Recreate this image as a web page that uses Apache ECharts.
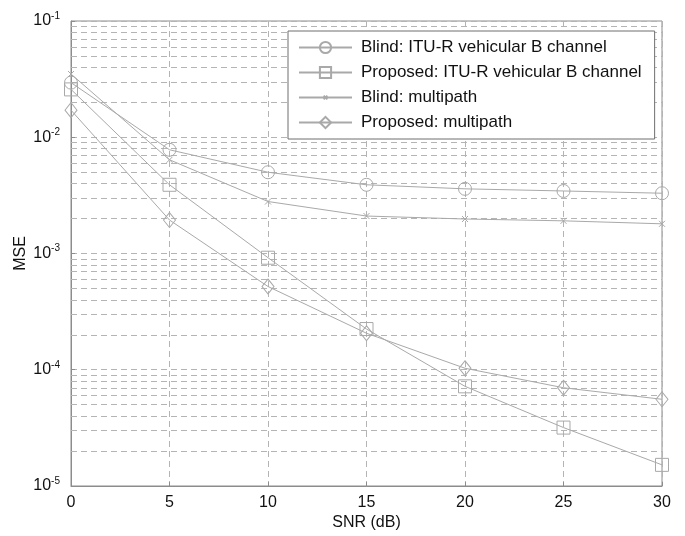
<!DOCTYPE html>
<html>
<head>
<meta charset="utf-8">
<script src="https://cdn.jsdelivr.net/npm/echarts@6/dist/echarts.min.js"></script>
<style>
html,body{margin:0;padding:0;background:#fff;}
#chart{width:685px;height:536px;}
</style>
</head>
<body>
<div id="chart"></div>
<script>
// ---- data ----
var snr = [0, 5, 10, 15, 20, 25, 30];
var blindITU = [0.0295, 0.0078, 0.0050, 0.0039, 0.0036, 0.00345, 0.0033];
var proposedITU = [0.0258, 0.0039, 0.00092, 0.000224, 0.000072, 0.0000318, 0.0000152];
var blindMP = [0.035, 0.0064, 0.0028, 0.0021, 0.00198, 0.00191, 0.0018];
var proposedMP = [0.0171, 0.00194, 0.00052, 0.000206, 0.000103, 0.000070, 0.0000557];
var seriesNames = [
  'Blind: ITU-R vehicular B channel',
  'Proposed: ITU-R vehicular B channel',
  'Blind: multipath',
  'Proposed: multipath'
];
var xTicks = [0, 5, 10, 15, 20, 25, 30];
var yDecades = [1e-5, 1e-4, 1e-3, 1e-2, 1e-1];
var minorMultipliers = [2, 3, 4, 5, 6, 7, 8, 9];

function pairs(ys) { return snr.map(function (x, i) { return [x, ys[i]]; }); }

var minorLines = [];
for (var d = 0; d < yDecades.length - 1; d++) {
  for (var k = 0; k < minorMultipliers.length; k++) {
    var v = minorMultipliers[k] * yDecades[d];
    minorLines.push([{ coord: [xTicks[0], v] }, { coord: [xTicks[xTicks.length - 1], v] }]);
  }
}

var LINE = '#a9a9a9';
var GRID = '#b4b4b4';
var FONT = 'Liberation Sans, Arial, sans-serif';
var XSYM = 'path://M-10,-10M0,0L10,10M10,0L0,10M20,20';

function mkSeries(name, ys, symbol, size) {
  return {
    name: name,
    type: 'line',
    data: pairs(ys),
    symbol: symbol,
    symbolSize: size,
    showAllSymbol: true,
    lineStyle: { color: LINE, width: 1 },
    itemStyle: { color: 'rgba(255,255,255,0)', borderColor: LINE, borderWidth: 1 },
    emphasis: { disabled: true },
    animation: false,
    z: 5
  };
}

var series = [
  mkSeries(seriesNames[0], blindITU, 'circle', 13),
  mkSeries(seriesNames[1], proposedITU, 'rect', 13),
  mkSeries(seriesNames[2], blindMP, XSYM, 18),
  mkSeries(seriesNames[3], proposedMP, 'diamond', [12, 15])
];
series.push({
  type: 'line',
  data: [],
  silent: true,
  animation: false,
  markLine: {
    silent: true,
    symbol: 'none',
    label: { show: false },
    animation: false,
    lineStyle: { color: GRID, type: [6, 4], width: 1 },
    emphasis: { disabled: true },
    data: minorLines
  },
  z: 1
});

var chart = echarts.init(document.getElementById('chart'), null, { renderer: 'canvas' });
chart.setOption({
  backgroundColor: '#fff',
  animation: false,
  textStyle: { fontFamily: FONT },
  grid: {
    left: 71, right: 23, top: 21, bottom: 50,
    show: true, borderColor: '#8c8c8c', borderWidth: 1, backgroundColor: 'transparent'
  },
  legend: {
    data: seriesNames,
    orient: 'vertical',
    left: 288, top: 31,
    backgroundColor: '#fff',
    borderColor: '#6e6e6e',
    borderWidth: 1,
    borderRadius: 0,
    padding: [8, 13, 8, 10],
    itemWidth: 53,
    itemHeight: 14,
    itemGap: 8,
    textStyle: { fontFamily: FONT, fontSize: 17, color: '#111', padding: [0, 0, 0, 4] },
    selectedMode: false,
    z: 10
  },
  xAxis: {
    type: 'value',
    min: 0, max: 30, interval: 5,
    name: 'SNR (dB)',
    nameLocation: 'middle',
    nameGap: 29,
    nameMoveOverlap: false,
    nameTextStyle: { fontFamily: FONT, fontSize: 16, color: '#111' },
    axisLine: { show: true, lineStyle: { color: '#8c8c8c' } },
    axisTick: { show: true, inside: true, length: 4, lineStyle: { color: '#8c8c8c' } },
    axisLabel: {
      fontFamily: FONT, fontSize: 16, color: '#111', margin: 9,
      formatter: function (v) { return xTicks.indexOf(v) >= 0 ? String(v) : ''; }
    },
    splitLine: { show: true, lineStyle: { color: GRID, type: [6, 4], width: 1 } }
  },
  yAxis: {
    type: 'log',
    logBase: 10,
    min: yDecades[0], max: yDecades[yDecades.length - 1],
    name: 'MSE',
    nameLocation: 'middle',
    nameGap: 42,
    nameMoveOverlap: false,
    nameTextStyle: { fontFamily: FONT, fontSize: 16, color: '#111' },
    axisLine: { show: true, lineStyle: { color: '#8c8c8c' } },
    axisTick: { show: true, inside: true, length: 4, lineStyle: { color: '#8c8c8c' } },
    axisLabel: {
      margin: 11,
      formatter: function (v) {
        var e = Math.round(Math.log(v) / Math.LN10);
        return '{b|10}{s|' + e + '}';
      },
      rich: {
        b: { fontFamily: FONT, fontSize: 16, color: '#111' },
        s: { fontFamily: FONT, fontSize: 10, color: '#111', verticalAlign: 'top', padding: [0, 0, 10, 0] }
      }
    },
    splitLine: { show: true, lineStyle: { color: GRID, type: [6, 4], width: 1 } }
  },
  series: series
});
</script>
</body>
</html>
